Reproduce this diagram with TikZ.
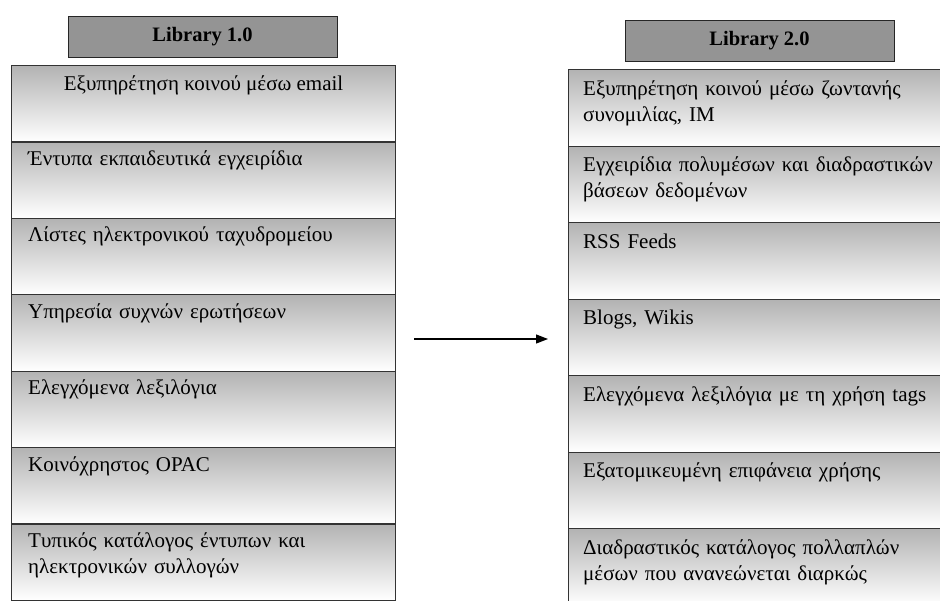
\documentclass[tikz,border=0pt]{standalone}
\usepackage{fontspec}
\setmainfont{Liberation Serif}
\usetikzlibrary{arrows.meta}
\begin{document}
\begin{tikzpicture}[x=1pt, y=1pt,
  every node/.style = {font=\fontsize{21}{26}\selectfont},
  head/.style = {shape=rectangle, draw=black!85, line width=1pt,
    fill=black!42, inner sep=0pt,
    minimum width=269pt, minimum height=41pt,
    font=\fontsize{20.5}{26}\selectfont\bfseries},
  itembox/.style = {shape=rectangle, draw=black!80, line width=1.1pt,
    top color=black!30, bottom color=white, inner sep=0pt,
    anchor=north west, minimum height=76.5pt},
  leftbox/.style = {itembox, minimum width=384pt},
  rightbox/.style = {itembox, minimum width=395pt},
  item/.style = {anchor=base west, inner sep=0pt,
    text width=365pt, align=left},
  flow/.style = {-{Triangle[length=12pt,width=9pt]}, line width=1.2pt}]
  \useasboundingbox (0,0) rectangle (940,-600);

  % headers
  \node[head] (hl) at (202.5,-36.5) {Library 1.0};
  \node[head] (hr) at (759.5,-41) {Library 2.0};

  % Library 1.0
  \node[leftbox] (l1) at (11,-65) {};
  \node[leftbox] (l2) at (11,-141.4) {};
  \node[leftbox] (l3) at (11,-217.8) {};
  \node[leftbox] (l4) at (11,-294.2) {};
  \node[leftbox] (l5) at (11,-370.6) {};
  \node[leftbox] (l6) at (11,-447) {};
  \node[leftbox] (l7) at (11,-523.4) {};

  \node[anchor=base, inner sep=0pt] at ([yshift=-25pt]l1.north)
    {Εξυπηρέτηση κοινού μέσω email};
  \node[item] at ([shift={(17pt,-24pt)}]l2.north west)
    {Έντυπα εκπαιδευτικά εγχειρίδια};
  \node[item] at ([shift={(17pt,-24pt)}]l3.north west)
    {Λίστες ηλεκτρονικού ταχυδρομείου};
  \node[item] at ([shift={(17pt,-24pt)}]l4.north west)
    {Υπηρεσία συχνών ερωτήσεων};
  \node[item] at ([shift={(17pt,-24pt)}]l5.north west)
    {Ελεγχόμενα λεξιλόγια};
  \node[item] at ([shift={(17pt,-24pt)}]l6.north west)
    {Κοινόχρηστος OPAC};
  \node[item] at ([shift={(17pt,-24pt)}]l7.north west)
    {Τυπικός κατάλογος έντυπων και\\ηλεκτρονικών συλλογών};

  % Library 2.0
  \node[rightbox] (r1) at (568,-69) {};
  \node[rightbox] (r2) at (568,-145.5) {};
  \node[rightbox] (r3) at (568,-222) {};
  \node[rightbox] (r4) at (568,-298.5) {};
  \node[rightbox] (r5) at (568,-375) {};
  \node[rightbox] (r6) at (568,-451.5) {};
  \node[rightbox] (r7) at (568,-528) {};

  \node[item] at ([shift={(15pt,-26pt)}]r1.north west)
    {Εξυπηρέτηση κοινού μέσω ζωντανής\\συνομιλίας, IM};
  \node[item] at ([shift={(15pt,-26pt)}]r2.north west)
    {Εγχειρίδια πολυμέσων και διαδραστικών\\βάσεων δεδομένων};
  \node[item] at ([shift={(15pt,-26pt)}]r3.north west)
    {RSS Feeds};
  \node[item] at ([shift={(15pt,-26pt)}]r4.north west)
    {Blogs, Wikis};
  \node[item] at ([shift={(15pt,-26pt)}]r5.north west)
    {Ελεγχόμενα λεξιλόγια με τη χρήση tags};
  \node[item] at ([shift={(15pt,-26pt)}]r6.north west)
    {Εξατομικευμένη επιφάνεια χρήσης};
  \node[item] at ([shift={(15pt,-26pt)}]r7.north west)
    {Διαδραστικός κατάλογος πολλαπλών\\μέσων που ανανεώνεται διαρκώς};

  \draw[flow, shorten <=18pt, shorten >=20pt]
    ([yshift=-6pt]l4.east) -- ([yshift=-6pt]l4.east -| r4.west);
\end{tikzpicture}
\end{document}
